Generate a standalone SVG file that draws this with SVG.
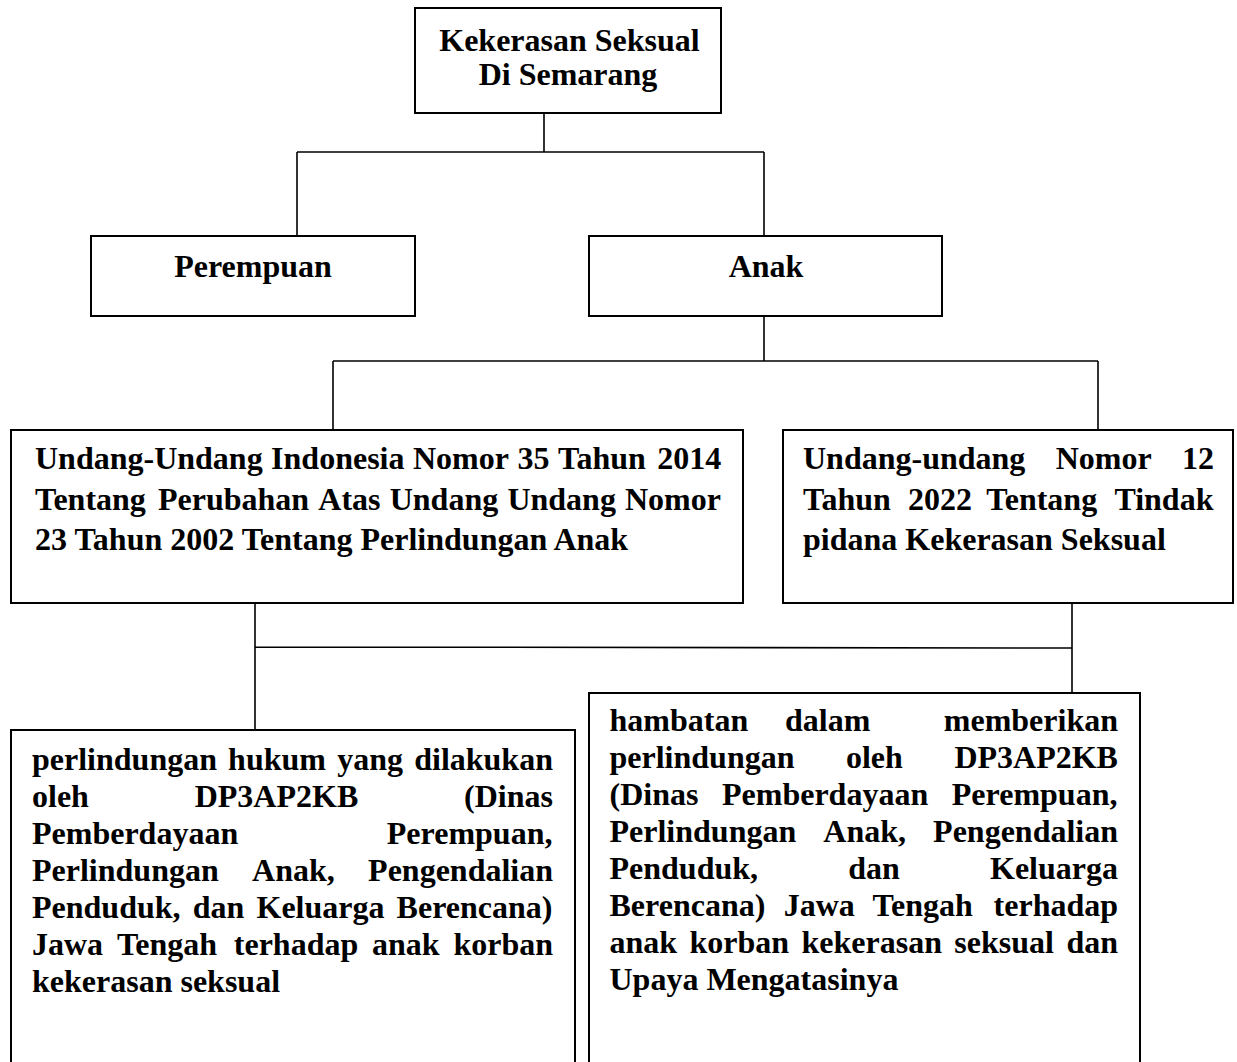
<svg xmlns="http://www.w3.org/2000/svg" width="1237" height="1062" viewBox="0 0 1237 1062">
<style>
.box{fill:#fff;stroke:#000;stroke-width:2}
.ln{fill:none;stroke:#000;stroke-width:1.6}
.t{font-family:"Liberation Serif","Times New Roman",serif;font-weight:bold;font-size:32px;fill:#000}
.c{text-anchor:middle}
</style>
<rect width="1237" height="1062" fill="#fff"/>
<g id="connectors">
<path class="ln" d="M544 113V152M297 152H764M297 152V236M764 152V236"/>
<path class="ln" d="M764 316V361M333 361H1098M333 361V430M1098 361V430"/>
<path class="ln" d="M255 603V730M255 647L1072 648M1072 603V693"/>
</g>
<g id="root">
<rect class="box" x="415" y="8" width="306" height="105"/>
<text class="t c" x="569.5" y="51">Kekerasan Seksual</text>
<text class="t c" x="568" y="85">Di Semarang</text>
</g>
<g id="perempuan">
<rect class="box" x="91" y="236" width="324" height="80"/>
<text class="t c" x="253" y="277">Perempuan</text>
</g>
<g id="anak">
<rect class="box" x="589" y="236" width="353" height="80"/>
<text class="t c" x="766" y="277">Anak</text>
</g>
<g id="uu35">
<rect class="box" x="11" y="430" width="732" height="173"/>
<text class="t" y="469"><tspan x="35">Undang-Undang</tspan><tspan x="271.1">Indonesia</tspan><tspan x="413">Nomor</tspan><tspan x="517.5">35</tspan><tspan x="558">Tahun</tspan><tspan x="657.2">2014</tspan></text>
<text class="t" y="509.5"><tspan x="35">Tentang</tspan><tspan x="158">Perubahan</tspan><tspan x="318.3">Atas</tspan><tspan x="389.7">Undang</tspan><tspan x="507.4">Undang</tspan><tspan x="625">Nomor</tspan></text>
<text class="t" x="35" y="550">23 Tahun 2002 Tentang Perlindungan Anak</text>
</g>
<g id="uu12">
<rect class="box" x="783" y="430" width="450" height="173"/>
<text class="t" y="469"><tspan x="803">Undang-undang</tspan><tspan x="1055.7">Nomor</tspan><tspan x="1182">12</tspan></text>
<text class="t" y="509.5"><tspan x="803">Tahun</tspan><tspan x="908">2022</tspan><tspan x="986.3">Tentang</tspan><tspan x="1114.4">Tindak</tspan></text>
<text class="t" x="803" y="550">pidana Kekerasan Seksual</text>
</g>
<g id="perlindungan">
<rect class="box" x="11" y="730" width="564" height="340"/>
<text class="t" y="770"><tspan x="32">perlindungan</tspan><tspan x="228.1">hukum</tspan><tspan x="337.2">yang</tspan><tspan x="414.2">dilakukan</tspan></text>
<text class="t" y="807"><tspan x="32">oleh</tspan><tspan x="194.7">DP3AP2KB</tspan><tspan x="464.1">(Dinas</tspan></text>
<text class="t" y="844"><tspan x="32">Pemberdayaan</tspan><tspan x="386.8">Perempuan,</tspan></text>
<text class="t" y="881"><tspan x="32">Perlindungan</tspan><tspan x="252.1">Anak,</tspan><tspan x="368.1">Pengendalian</tspan></text>
<text class="t" y="918"><tspan x="32">Penduduk,</tspan><tspan x="192.7">dan</tspan><tspan x="256.5">Keluarga</tspan><tspan x="396.6">Berencana)</tspan></text>
<text class="t" y="955"><tspan x="32">Jawa</tspan><tspan x="116.9">Tengah</tspan><tspan x="233.8">terhadap</tspan><tspan x="372">anak</tspan><tspan x="453.4">korban</tspan></text>
<text class="t" x="32" y="992">kekerasan seksual</text>
</g>
<g id="hambatan">
<rect class="box" x="589" y="693" width="551" height="380"/>
<text class="t" y="731"><tspan x="609.5">hambatan</tspan><tspan x="785">dalam</tspan><tspan x="943.8">memberikan</tspan></text>
<text class="t" y="768"><tspan x="609.5">perlindungan</tspan><tspan x="845.9">oleh</tspan><tspan x="954.4">DP3AP2KB</tspan></text>
<text class="t" y="805"><tspan x="609.5">(Dinas</tspan><tspan x="722">Pemberdayaan</tspan><tspan x="951.8">Perempuan,</tspan></text>
<text class="t" y="842"><tspan x="609.5">Perlindungan</tspan><tspan x="823.3">Anak,</tspan><tspan x="933.1">Pengendalian</tspan></text>
<text class="t" y="879"><tspan x="609.5">Penduduk,</tspan><tspan x="848.2">dan</tspan><tspan x="990">Keluarga</tspan></text>
<text class="t" y="916"><tspan x="609.5">Berencana)</tspan><tspan x="783.7">Jawa</tspan><tspan x="872.6">Tengah</tspan><tspan x="993.6">terhadap</tspan></text>
<text class="t" y="953"><tspan x="609.5">anak</tspan><tspan x="689.5">korban</tspan><tspan x="801.5">kekerasan</tspan><tspan x="954.3">seksual</tspan><tspan x="1066.4">dan</tspan></text>
<text class="t" x="609.5" y="990">Upaya Mengatasinya</text>
</g>
</svg>
